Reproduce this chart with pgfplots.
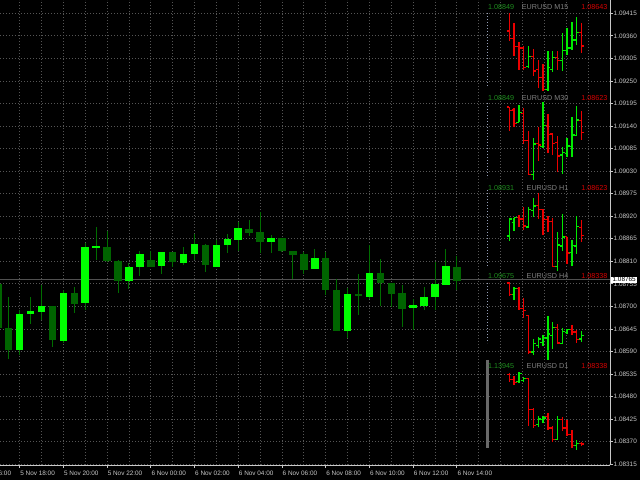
\documentclass[border=0pt]{standalone}
\usepackage{fontspec}
\setmainfont{Liberation Sans}
\usepackage{pgfplots}
\pgfplotsset{compat=1.18}
\usepackage{pgfplotstable}

\definecolor{bullc}{RGB}{0,255,0}
\definecolor{bearc}{RGB}{0,100,0}
\definecolor{wickc}{RGB}{0,110,0}
\definecolor{gridc}{RGB}{85,85,85}
\definecolor{axc}{RGB}{200,200,200}
\definecolor{pred}{RGB}{235,0,0}
\definecolor{pgreen}{RGB}{0,235,0}
\definecolor{hgreen}{RGB}{30,140,30}
\definecolor{hred}{RGB}{215,0,0}
\definecolor{hgray}{RGB}{128,128,128}
\definecolor{bidc}{RGB}{80,80,80}
\definecolor{dotc}{RGB}{150,160,185}

\newcommand{\tfont}{\fontsize{6.4bp}{7bp}\selectfont}
\newcommand{\hfont}{\fontsize{7.2bp}{8bp}\selectfont}

\pgfdeclareplotmark{lefttick}{\pgfpathmoveto{\pgfqpoint{-2.6bp}{0pt}}\pgfpathlineto{\pgfqpoint{0pt}{0pt}}\pgfusepathqstroke}
\pgfdeclareplotmark{righttick}{\pgfpathmoveto{\pgfqpoint{2.6bp}{0pt}}\pgfpathlineto{\pgfqpoint{0pt}{0pt}}\pgfusepathqstroke}

% main chart, EURUSD M30, prices in 1e-5 above 1.08000
\pgfplotstableread{
x o h l c
1 594 690 582 682
2 682 724 657 688
3 687 751 667 700
5 616 739 611 733
7 708 855 692 845
8 844 894 814 847
11 761 807 742 797
12 796 834 774 828
14 799 833 779 833
16 806 845 802 828
17 828 876 812 851
19 797 861 797 849
20 850 876 830 865
21 863 906 836 892
24 857 873 830 867
28 792 841 792 819
31 641 745 623 729
33 722 849 718 782
37 697 719 643 704
38 702 747 691 723
39 722 808 691 755
40 753 839 753 798
}\mainbull
\pgfplotstableread{
x o h l c
-1 755 760 640 647
0 647 724 572 594
4 700 702 600 617
6 732 747 683 707
9 846 885 808 810
10 810 814 732 761
13 814 834 797 797
15 833 833 797 808
18 850 853 784 801
22 888 910 871 880
23 882 931 830 857
25 867 867 832 835
26 836 836 767 825
27 827 832 778 789
29 817 832 728 739
30 740 767 639 641
32 731 778 680 726
34 782 816 702 757
35 758 758 698 730
36 733 753 649 694
41 796 824 739 763
}\mainbear

% M15 panel
\pgfplotstableread{
k o h l c
0 803 849 777 784
1 784 823 736 762
2 762 775 701 758
3 758 762 699 707
5 736 756 684 697
6 701 725 653 680
7 680 716 643 649
10 732 751 701 725
15 799 823 745 763
}\mfr
\pgfplotstableread{
k o h l c
4 710 762 706 736
8 649 749 645 707
9 701 749 695 732
11 725 797 697 751
12 751 810 740 758
13 758 826 753 779
14 779 840 766 799
}\mfg
% M30 panel
\pgfplotstableread{
k o h l c
0 836 836 767 825
1 827 832 778 789
3 817 832 728 739
4 740 767 639 641
6 731 778 680 726
8 782 816 702 757
9 758 758 698 730
10 733 753 649 694
15 796 824 739 763
}\mtr
\pgfplotstableread{
k o h l c
2 792 841 792 819
5 641 745 623 729
7 722 849 718 782
11 697 719 643 704
12 702 747 691 723
13 722 808 691 755
14 753 839 753 798
}\mtg
% H1 panel
\pgfplotstableread{
k o h l c
2 833 845 797 828
3 828 876 784 801
6 882 931 830 867
7 867 867 767 825
8 827 841 778 819
9 817 832 639 641
12 758 758 649 694
15 796 824 739 763
}\hor
\pgfplotstableread{
k o h l c
0 761 834 742 828
1 814 834 779 833
4 797 876 797 865
5 863 910 836 880
10 641 778 623 726
11 722 849 702 757
13 697 747 643 723
14 722 839 691 798
}\hog
% H4 panel
\pgfplotstableread{
k o h l c
0 1658 1675 1432 1461
2 1562 1585 1190 1224
3 1224 1404 1066 1190
4 1094 1111 434 474
10 897 953 615 630
13 862 931 767 819
14 817 849 623 694
}\hfr
\pgfplotstableread{
k o h l c
1 1461 1585 1359 1562
5 474 699 417 615
6 586 739 547 699
7 643 773 586 727
8 716 1094 338 784
9 756 981 530 897
11 616 894 611 828
12 814 876 779 865
15 697 839 643 763
}\hfg
% D1 panel
\pgfplotstableread{
k o h l c
0 5779 5874 5235 5401
1 5401 5637 4999 5164
4 5472 5543 2041 3224
5 3224 3342 1923 2088
8 2751 2988 1804 1923
9 1923 2041 905 1095
11 2514 2704 1686 1923
12 1923 2467 1331 1450
13 1450 1804 503 669
15 814 932 623 763
}\dor
\pgfplotstableread{
k o h l c
2 5235 5945 5164 5827
3 5354 5590 5235 5472
6 2159 2751 1994 2562
7 2514 2751 2278 2633
10 1095 2751 1047 2514
14 669 1047 338 810
}\dog

\newcommand{\ohlc}[2]{%
\addplot[draw=none, mark=none, error bars/.cd, y dir=both, y explicit, error mark=none,
  error bar style={line width=1.4bp, draw=#2, solid}]
  table[x=k, y expr={(\thisrow{h}+\thisrow{l})/2}, y error expr={(\thisrow{h}-\thisrow{l})/2}] {#1};
\addplot[only marks, mark=lefttick, mark options={line width=1.2bp, draw=#2}] table[x=k, y=o] {#1};
\addplot[only marks, mark=righttick, mark options={line width=1.2bp, draw=#2}] table[x=k, y=c] {#1};
}

\pgfplotsset{panel/.style={anchor=south west, width=123bp, height=78bp, scale only axis,
  xmin=-4.627, xmax=20.892, axis lines=none, ticks=none, clip=false}}

\begin{document}
\begin{tikzpicture}[x=1bp,y=1bp]
\fill[black] (0bp,0bp) rectangle (640bp,480bp);
\begin{axis}[
  at={(0bp,15bp)}, anchor=south west, width=610bp, height=465bp, scale only axis,
  xmin=-0.796, xmax=55.01, ymin=313, ymax=1447.5,
  axis x line*=bottom, axis y line*=right,
  axis line style={draw=axc, line width=0.8bp},
  xtick={1,5,...,41},
  xticklabels={5 Nov 18:00,5 Nov 20:00,5 Nov 22:00,6 Nov 00:00,6 Nov 02:00,6 Nov 04:00,6 Nov 06:00,6 Nov 08:00,6 Nov 10:00,6 Nov 12:00,6 Nov 14:00},
  minor xtick={3,7,11,15,19,23,27,31,35,39,43,45,47,49,51,53},
  ytick={315,370,...,1415},
  yticklabels={1.08315,1.08370,1.08425,1.08480,1.08535,1.08590,1.08645,1.08700,1.08755,1.08810,1.08865,1.08920,1.08975,1.09030,1.09085,1.09140,1.09195,1.09250,1.09305,1.09360,1.09415},
  grid=both,
  major grid style={draw=gridc, dash pattern=on 1bp off 2bp, line width=0.8bp},
  minor grid style={draw=gridc, dash pattern=on 1bp off 2bp, line width=0.8bp},
  tick align=outside, major tick length=3bp, minor tick length=0pt,
  tick style={draw=axc, line width=0.8bp},
  ticklabel style={font=\tfont, text=axc},
  xticklabel style={anchor=north west, inner sep=0.5bp, yshift=-2bp},
  yticklabel style={anchor=west, inner sep=0.5bp},
]
\addplot[bidc, line width=1bp] coordinates {(-0.796,765) (55.01,765)};
\addplot[draw=none, mark=none, error bars/.cd, y dir=both, y explicit, error mark=none,
  error bar style={line width=1bp, draw=wickc, solid}]
  table[x=x, y expr={(\thisrow{h}+\thisrow{l})/2}, y error expr={(\thisrow{h}-\thisrow{l})/2}] {\mainbull};
\addplot[draw=none, mark=none, error bars/.cd, y dir=both, y explicit, error mark=none,
  error bar style={line width=1bp, draw=wickc, solid}]
  table[x=x, y expr={(\thisrow{h}+\thisrow{l})/2}, y error expr={(\thisrow{h}-\thisrow{l})/2}] {\mainbear};
\addplot[draw=none, mark=none, error bars/.cd, y dir=both, y explicit, error mark=none,
  error bar style={line width=7.5bp, draw=bullc, solid}]
  table[x=x, y expr={(\thisrow{o}+\thisrow{c})/2}, y error expr={abs(\thisrow{c}-\thisrow{o})/2}] {\mainbull};
\addplot[draw=none, mark=none, error bars/.cd, y dir=both, y explicit, error mark=none,
  error bar style={line width=7.5bp, draw=bearc, solid}]
  table[x=x, y expr={(\thisrow{o}+\thisrow{c})/2}, y error expr={abs(\thisrow{c}-\thisrow{o})/2}] {\mainbear};
\coordinate (bid) at (axis cs:55.01,765);
\coordinate (lbl) at (axis cs:-3,313);
\end{axis}
\node[anchor=west, fill=white, text=black, inner ysep=0.8bp, inner xsep=1.6bp, font=\tfont, xshift=0.8bp] at (bid) {1.08765};
\node[anchor=north west, inner sep=0.5bp, font=\tfont, text=axc, yshift=-5bp] at (lbl) {5 Nov 16:00};

% mini panels
\begin{axis}[panel, at={(487bp,388.5bp)}, ymin=643, ymax=849]
\ohlc{\mfr}{pred}\ohlc{\mfg}{pgreen}
\end{axis}
\begin{axis}[panel, at={(487bp,299.5bp)}, ymin=623, ymax=849]
\ohlc{\mtr}{pred}\ohlc{\mtg}{pgreen}
\end{axis}
\begin{axis}[panel, at={(487bp,209bp)}, ymin=623, ymax=931]
\ohlc{\hor}{pred}\ohlc{\hog}{pgreen}
\end{axis}
\begin{axis}[panel, at={(487bp,120bp)}, ymin=338, ymax=1675]
\ohlc{\hfr}{pred}\ohlc{\hfg}{pgreen}
\end{axis}
\begin{axis}[panel, at={(487bp,30bp)}, ymin=338, ymax=5945]
\ohlc{\dor}{pred}\ohlc{\dog}{pgreen}
\end{axis}

% panel side markers
\draw[dotc, line width=1bp, dash pattern=on 0.8bp off 2.2bp] (487.3bp,467bp) -- (487.3bp,393bp);
\draw[dotc, line width=1bp, dash pattern=on 0.8bp off 2.2bp] (487.3bp,377bp) -- (487.3bp,302bp);
\draw[dotc, line width=1bp, dash pattern=on 0.8bp off 2.2bp] (487.3bp,290bp) -- (487.3bp,213bp);
\draw[dotc, line width=1bp, dash pattern=on 0.8bp off 2.2bp] (487.3bp,197bp) -- (487.3bp,137bp);
\draw[draw={rgb,255:red,105;green,105;blue,105}, line width=2.7bp] (487.3bp,120bp) -- (487.3bp,32bp);

% panel headers
\foreach \yy/\hi/\tf/\lo in {472.7/1.08849/M15/1.08643, 382/1.08849/M30/1.08623, 292.3/1.08931/H1/1.08623, 204/1.09675/H4/1.08338, 114/1.13945/D1/1.08338}{
  \node[anchor=west, inner sep=0pt, font=\hfont, text=hgreen] at (488bp,\yy bp) {\hi};
  \node[anchor=east, inner sep=0pt, font=\hfont, text=hgray] at (568.5bp,\yy bp) {EURUSD \tf};
  \node[anchor=east, inner sep=0pt, font=\hfont, text=hred] at (607.5bp,\yy bp) {\lo};
}
\pgfresetboundingbox
\path[use as bounding box] (0bp,0bp) rectangle (640bp,480bp);
\end{tikzpicture}
\end{document}
